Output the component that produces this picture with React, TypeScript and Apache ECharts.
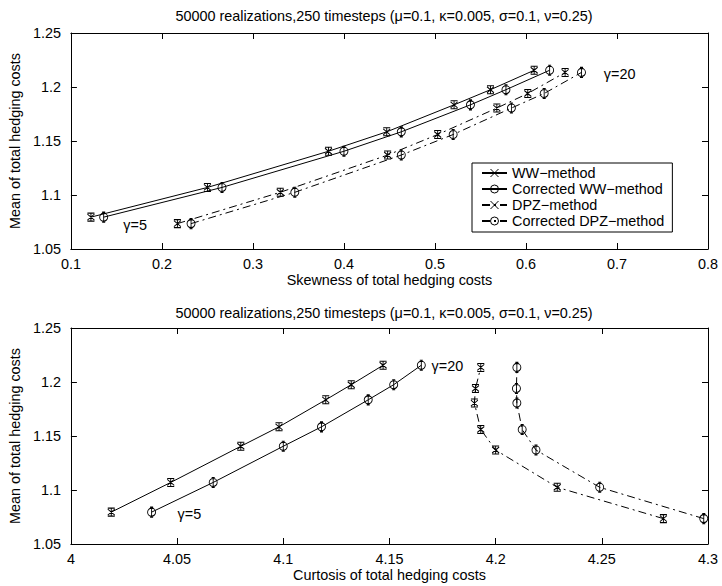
import React, { useEffect, useRef } from "react";
import * as echarts from "echarts";

// ---- data (γ = 5 ... 20, ascending) ----
const meanWW = [1.0795, 1.107, 1.1405, 1.1585, 1.1835, 1.1975, 1.2155];
const meanDPZ = [1.0735, 1.1025, 1.137, 1.156, 1.1805, 1.194, 1.2135];

const skewWW = [0.122, 0.25, 0.383, 0.447, 0.521, 0.561, 0.609];
const skewCWW = [0.136, 0.266, 0.4, 0.463, 0.539, 0.578, 0.626];
const skewDPZ = [0.217, 0.33, 0.448, 0.503, 0.568, 0.602, 0.643];
const skewCDPZ = [0.232, 0.346, 0.463, 0.52, 0.584, 0.62, 0.661];

const kurtWW = [4.019, 4.047, 4.08, 4.098, 4.12, 4.132, 4.147];
const kurtCWW = [4.038, 4.067, 4.1, 4.118, 4.14, 4.152, 4.165];
const kurtDPZ = [4.279, 4.229, 4.2, 4.193, 4.19, 4.1905, 4.193];
const kurtCDPZ = [4.298, 4.249, 4.219, 4.2125, 4.21, 4.2098, 4.21];

const seriesNames = ["WW−method", "Corrected WW−method", "DPZ−method", "Corrected DPZ−method"];
const titleText = "50000 realizations,250 timesteps (μ=0.1, κ=0.005, σ=0.1, ν=0.25)";
const skewAxisName = "Skewness of total hedging costs";
const kurtAxisName = "Curtosis of total hedging costs";
const meanAxisName = "Mean of total hedging costs";

// annotation labels: [x, y, text]
const topNotes: [number, number, string][] = [
  [0.157, 1.072, "γ=5"],
  [0.685, 1.212, "γ=20"],
];
const bottomNotes: [number, number, string][] = [
  [4.05, 1.078, "γ=5"],
  [4.1696, 1.2144, "γ=20"],
];

const FONT = "'Liberation Sans', Arial, Helvetica, sans-serif";
const FS = 14.4;

const X_ERR = "path://M-3,-3L3,3M3,-3L-3,3M-3,-4L3,-4M-3,4L3,4M0,-4L0,4";
const O_ERR =
  "path://M-4,0A4,4,0,1,1,4,0A4,4,0,1,1,-4,0ZM0,-5L0,5M-1.5,-5L1.5,-5M-1.5,5L1.5,5";
const X_PLAIN = "path://M-3,-3L3,3M3,-3L-3,3";
const O_PLAIN = "path://M-4,0A4,4,0,1,1,4,0A4,4,0,1,1,-4,0Z";

const DASHDOT = [8, 4, 2, 4];

function pairs(xs: number[], ys: number[]) {
  return xs.map((x, i) => [x, ys[i]]);
}

export default function App() {
  const ref = useRef<HTMLDivElement>(null);
  useEffect(() => {
    if (!ref.current) return;
    const chart = echarts.init(ref.current, undefined, { renderer: "svg" });

    const itemStyle = { color: "rgba(0,0,0,0)", borderColor: "#000", borderWidth: 1 };
    const styles = [
      { sym: X_ERR, plain: X_PLAIN, size: [7, 8], dash: "solid" as any },
      { sym: O_ERR, plain: O_PLAIN, size: [8, 10], dash: "solid" as any },
      { sym: X_ERR, plain: X_PLAIN, size: [7, 8], dash: DASHDOT as any },
      { sym: O_ERR, plain: O_PLAIN, size: [8, 10], dash: DASHDOT as any },
    ];
    const topData = [
      pairs(skewWW, meanWW),
      pairs(skewCWW, meanWW),
      pairs(skewDPZ, meanDPZ),
      pairs(skewCDPZ, meanDPZ),
    ];
    const bottomData = [
      pairs(kurtWW, meanWW),
      pairs(kurtCWW, meanWW),
      pairs(kurtDPZ, meanDPZ),
      pairs(kurtCDPZ, meanDPZ),
    ];

    const series: any[] = [];
    // legend-only series (plain markers)
    seriesNames.forEach((name, i) => {
      series.push({
        type: "line",
        name,
        data: [],
        xAxisIndex: 0,
        yAxisIndex: 0,
        symbol: styles[i].plain,
        symbolSize: 7,
        itemStyle,
        lineStyle: { color: "#000", width: 1, type: styles[i].dash },
      });
    });
    const addSet = (data: number[][][], xi: number, yi: number) => {
      data.forEach((d, i) => {
        series.push({
          type: "line",
          name: seriesNames[i],
          data: d,
          xAxisIndex: xi,
          yAxisIndex: yi,
          symbol: styles[i].sym,
          symbolSize: styles[i].size,
          showAllSymbol: true,
          itemStyle,
          lineStyle: { color: "#000", width: 1, type: styles[i].dash },
          emphasis: { disabled: true },
        });
      });
    };
    addSet(topData, 0, 0);
    addSet(bottomData, 2, 2);

    const noteSeries = (notes: [number, number, string][], xi: number, yi: number) => ({
      type: "line",
      name: "notes",
      xAxisIndex: xi,
      yAxisIndex: yi,
      symbol: "circle",
      symbolSize: 1,
      showAllSymbol: true,
      lineStyle: { width: 0, opacity: 0 },
      itemStyle: { color: "rgba(0,0,0,0)", opacity: 1 },
      emphasis: { disabled: true },
      data: notes.map((n) => ({ value: [n[0], n[1]], label: { formatter: n[2] } })),
      label: {
        show: true,
        position: "right",
        distance: 0,
        color: "#000",
        opacity: 1,
        textBorderWidth: 0,
        fontFamily: FONT,
        fontSize: FS,
      },
    });
    series.push(noteSeries(topNotes, 0, 0));
    series.push(noteSeries(bottomNotes, 2, 2));

    const axisBase = {
      axisLine: { show: true, lineStyle: { color: "#000", width: 1 } },
      axisTick: { show: true, inside: true, length: 6, lineStyle: { color: "#000", width: 1 } },
      splitLine: { show: false },
    };
    const labelStyle = { color: "#000", fontFamily: FONT, fontSize: FS };
    const nameStyle = { color: "#000", fontFamily: FONT, fontSize: FS };

    const xAxes = (gi: number, min: number, max: number, interval: number, name: string, lblMargin: number) => [
      {
        type: "value",
        gridIndex: gi,
        min,
        max,
        interval,
        position: "bottom",
        name,
        nameLocation: "middle",
        nameGap: 24,
        nameTextStyle: nameStyle,
        axisLabel: { ...labelStyle, margin: lblMargin, showMinLabel: true, showMaxLabel: true },
        ...axisBase,
      },
      {
        type: "value",
        gridIndex: gi,
        min,
        max,
        interval,
        position: "top",
        axisLabel: { show: false },
        ...axisBase,
      },
    ];
    const yAxes = (gi: number) => [
      {
        type: "value",
        gridIndex: gi,
        min: 1.05,
        max: 1.25,
        interval: 0.05,
        position: "left",
        name: meanAxisName,
        nameLocation: "middle",
        nameGap: 31,
        nameTextStyle: nameStyle,
        axisLabel: { ...labelStyle, margin: 10, showMinLabel: true, showMaxLabel: true },
        ...axisBase,
      },
      {
        type: "value",
        gridIndex: gi,
        min: 1.05,
        max: 1.25,
        interval: 0.05,
        position: "right",
        axisLabel: { show: false },
        ...axisBase,
      },
    ];

    chart.setOption({
      animation: false,
      backgroundColor: "#fff",
      grid: [
        { left: 60, top: 33, width: 648, height: 216 },
        { left: 60, top: 328, width: 648, height: 216 },
      ],
      xAxis: [
        ...xAxes(0, 0.1, 0.8, 0.1, skewAxisName, 8),
        ...xAxes(1, 4, 4.3, 0.05, kurtAxisName, 8),
      ],
      yAxis: [...yAxes(0), ...yAxes(1)],
      legend: {
        data: seriesNames,
        orient: "vertical",
        left: 472,
        top: 163,
        padding: [2, 8, 3, 9],
        itemGap: 0,
        itemWidth: 25,
        itemHeight: 10,
        backgroundColor: "#fff",
        borderColor: "#000",
        borderWidth: 1,
        itemStyle: { borderWidth: 1 },
        textStyle: { color: "#000", fontFamily: FONT, fontSize: FS, lineHeight: 16 },
        selectedMode: false,
      },
      graphic: [
        {
          type: "text",
          x: 384,
          y: 16,
          style: { text: titleText, fill: "#000", font: `${FS}px ${FONT}`, align: "center", verticalAlign: "middle" },
        },
        {
          type: "text",
          x: 384,
          y: 312.7,
          style: { text: titleText, fill: "#000", font: `${FS}px ${FONT}`, align: "center", verticalAlign: "middle" },
        },
      ],
      series,
    });
    return () => chart.dispose();
  }, []);
  return (
    <div
      ref={ref}
      style={{ position: "absolute", left: 0, top: 0, width: 722, height: 586, background: "#fff" }}
    />
  );
}
